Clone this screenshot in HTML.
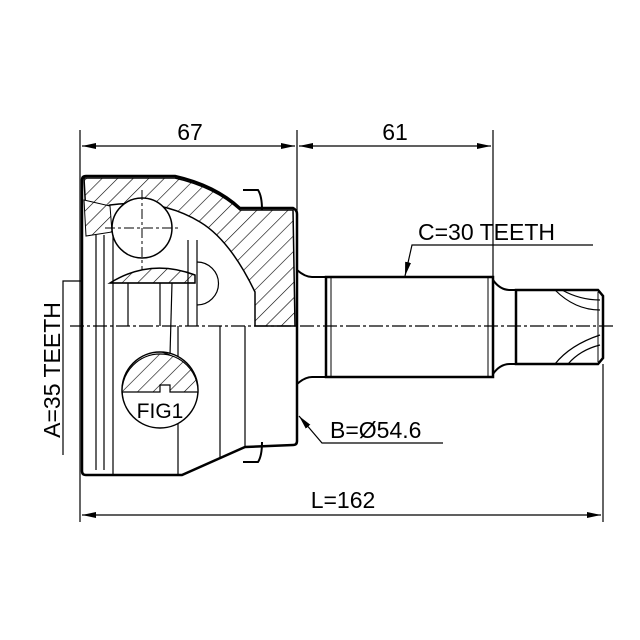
<!DOCTYPE html>
<html><head><style>html,body{margin:0;padding:0;background:#fff}svg{display:block}</style></head>
<body>
<svg width="640" height="640" viewBox="0 0 640 640" xmlns="http://www.w3.org/2000/svg" font-family="Liberation Sans, sans-serif">
<defs>
<pattern id="h" patternUnits="userSpaceOnUse" width="11" height="11" patternTransform="rotate(45)">
<rect width="11" height="11" fill="#fff"/><line x1="0" y1="0" x2="0" y2="11" stroke="#000" stroke-width="1.2"/></pattern>
<marker id="a" markerWidth="14" markerHeight="6" refX="14" refY="3" orient="auto" markerUnits="userSpaceOnUse"><path d="M0,0 L14,3 L0,6z" fill="#000"/></marker>
</defs>
<rect width="640" height="640" fill="#fff"/>
<g stroke="#000" fill="none">
<g stroke-width="1.2">
<line x1="80" y1="130" x2="80" y2="522"/>
<line x1="297" y1="130" x2="297" y2="212"/>
<line x1="493" y1="130" x2="493" y2="277"/>
<line x1="603" y1="364" x2="603" y2="522"/>
<line x1="190" y1="146" x2="82" y2="146" marker-end="url(#a)"/>
<line x1="190" y1="146" x2="295" y2="146" marker-end="url(#a)"/>
<line x1="395" y1="146" x2="299" y2="146" marker-end="url(#a)"/>
<line x1="395" y1="146" x2="491" y2="146" marker-end="url(#a)"/>
<line x1="300" y1="515" x2="82" y2="515" marker-end="url(#a)"/>
<line x1="300" y1="515" x2="601" y2="515" marker-end="url(#a)"/>
<polyline points="190,281 63,281 63,455"/>
<polyline points="593,245 412,245 405,276" marker-end="url(#a)"/>
<polyline points="443,443 322,443 299,416" marker-end="url(#a)"/>
</g>
<path d="M86,176 L175,176 Q215,185 240,208 L293,208 Q297,210 297,214 L297,441 Q297,445 293,445 L245,447 L182,475 L86,475 Q82,475 82,471 L82,180 Q82,176 86,176Z" stroke-width="2.5" fill="#fff"/>
<path d="M84,178 L175,178 Q215,187 240,210 L293,210 L295,326 L255,326 L255,292 Q230,240 200,222 Q160,198 110,205 L86,215Z" fill="url(#h)" stroke-width="1.5"/>
<path d="M110,283 Q150,258 195,275 L195,283Z" fill="url(#h)" stroke-width="1.5"/>
<path d="M84,200 L110,206 L112,232 L86,236Z" fill="url(#h)" stroke-width="1"/>
<circle cx="142" cy="228" r="30" fill="#fff" stroke-width="1.5"/>
<path d="M197,262 A20,20 0 0 1 197,305" stroke-width="1.2"/>
<g stroke-width="1.2">
<line x1="96" y1="235" x2="96" y2="470"/><line x1="104" y1="235" x2="104" y2="470"/>
<line x1="113" y1="235" x2="113" y2="475"/>
<line x1="128" y1="283" x2="128" y2="326"/><line x1="160" y1="283" x2="160" y2="326"/>
<line x1="188" y1="240" x2="188" y2="326"/><line x1="197" y1="240" x2="197" y2="326"/>
<line x1="178" y1="326" x2="178" y2="475"/>
<line x1="220" y1="326" x2="220" y2="458"/><line x1="245" y1="326" x2="245" y2="447"/>
<line x1="110" y1="283" x2="195" y2="283"/>
<line x1="172" y1="283" x2="170" y2="355"/>
</g>
<path d="M243,190 L258,190 Q262,196 262,210 M243,462 L258,462 Q262,456 262,442" stroke-width="2"/>
<path d="M297,270 Q305,277 312,277 L326,277 L326,377 L312,377 Q305,377 297,384" stroke-width="2"/>
<rect x="326" y="277" width="167" height="100" fill="#fff" stroke-width="2.5"/>
<line x1="331" y1="277" x2="331" y2="377" stroke-width="1"/>
<line x1="488" y1="277" x2="488" y2="377" stroke-width="1"/>
<path d="M493,280 Q500,290 510,290 L516,290 M493,374 Q500,364 510,364 L516,364" stroke-width="2"/>
<path d="M516,290 L598,290 L603,296 L603,358 L598,364 L516,364Z" fill="#fff" stroke-width="2.5"/>
<line x1="598" y1="292" x2="598" y2="362" stroke-width="1"/>
<path d="M555,290 Q575,310 600,310 M562,290 Q580,300 600,300" stroke-width="1.2"/>
<path d="M555,364 Q570,345 600,335 M568,364 Q580,350 600,345" stroke-width="1.2"/>
<circle cx="160" cy="390" r="38" fill="#fff" stroke-width="1.5"/>
<path d="M122,392 A38,38 0 0 1 198,392 L170,392 L170,385 L160,385 L160,392Z" fill="url(#h)" stroke-width="1.2"/>
<line x1="162" y1="352" x2="170" y2="355" stroke-width="1"/>
<line x1="70" y1="326" x2="615" y2="326" stroke-width="1.2" stroke-dasharray="14,3,3,3"/>
<line x1="142" y1="190" x2="142" y2="270" stroke-width="1" stroke-dasharray="10,3,3,3"/>
<line x1="105" y1="228" x2="180" y2="228" stroke-width="1" stroke-dasharray="10,3,3,3"/>
</g>
<g font-size="23" fill="#000">
<text x="190" y="140" text-anchor="middle">67</text>
<text x="395" y="140" text-anchor="middle">61</text>
<text x="343" y="508" text-anchor="middle">L=162</text>
<text x="418" y="240">C=30 TEETH</text>
<text x="330" y="438">B=Ø54.6</text>
<text x="160" y="418" text-anchor="middle" font-size="21">FIG1</text>
<text transform="translate(60,370) rotate(-90)" text-anchor="middle">A=35 TEETH</text>
</g>
</svg>
</body></html>
